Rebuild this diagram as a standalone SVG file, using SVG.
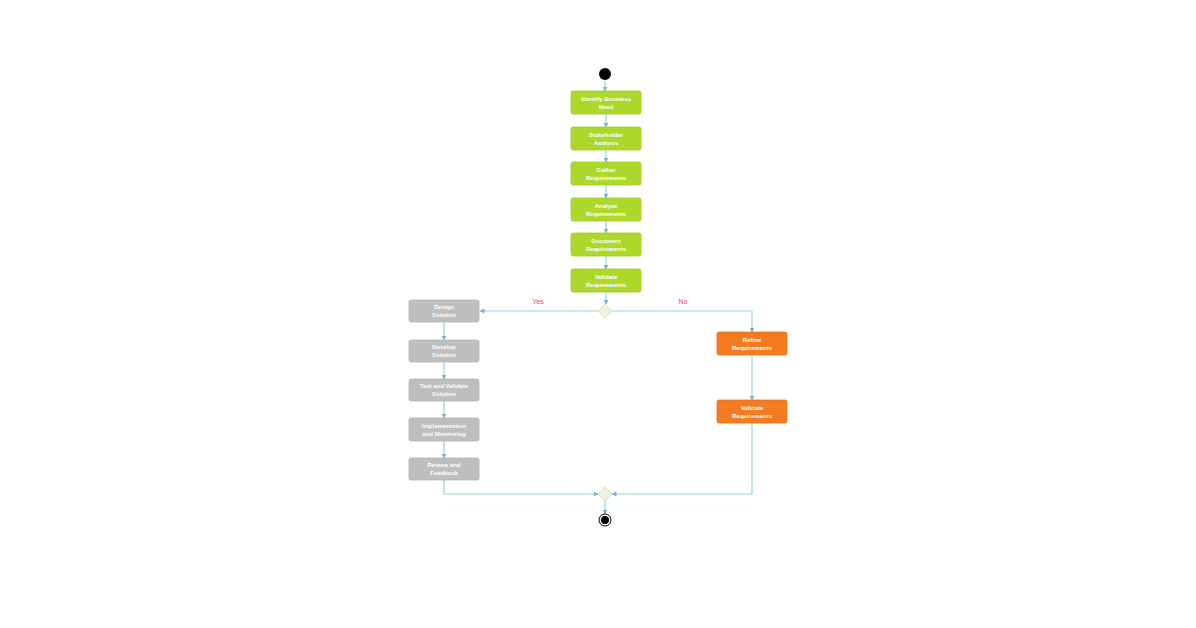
<svg xmlns="http://www.w3.org/2000/svg" width="1196" height="628" viewBox="0 0 1196 628">
<defs>
<marker id="ar" markerWidth="5" markerHeight="5" refX="4.5" refY="2.5" orient="auto" markerUnits="userSpaceOnUse">
<path d="M0,0 L5,2.5 L0,5 z" fill="#7aaecb"/>
</marker>
<style>
.c{fill:none;stroke:#97d5d2;stroke-width:1.2}
.g rect{fill:#acd82c;stroke:#a0ce24;stroke-width:0.8}
.o rect{fill:#f47b20;stroke:#e86e15;stroke-width:0.8}
.s rect{fill:#bebebe;stroke:#b2b2b2;stroke-width:0.8}
text{font-family:"Liberation Sans",Arial,sans-serif;font-size:6px;font-weight:bold;fill:#ffffff;text-anchor:middle}
.lbl{fill:#e8416a;font-size:7px;font-weight:normal}
</style>
</defs>
<rect width="1196" height="628" fill="#ffffff"/>
<g id="connectors">
<path class="c" marker-end="url(#ar)" d="M605,80 V91"/>
<path class="c" marker-end="url(#ar)" d="M606,114 V127"/>
<path class="c" marker-end="url(#ar)" d="M606,150 V162"/>
<path class="c" marker-end="url(#ar)" d="M606,185 V198"/>
<path class="c" marker-end="url(#ar)" d="M606,221 V233"/>
<path class="c" marker-end="url(#ar)" d="M606,256 V269"/>
<path class="c" marker-end="url(#ar)" d="M606,292 V304"/>
<path class="c" marker-end="url(#ar)" d="M598,311 H480"/>
<path class="c" marker-end="url(#ar)" d="M612,311 H752 V332"/>
<path class="c" marker-end="url(#ar)" d="M752,355 V400"/>
<path class="c" marker-end="url(#ar)" d="M752,423 V494 H612"/>
<path class="c" marker-end="url(#ar)" d="M444,322 V340"/>
<path class="c" marker-end="url(#ar)" d="M444,362 V379"/>
<path class="c" marker-end="url(#ar)" d="M444,401 V418"/>
<path class="c" marker-end="url(#ar)" d="M444,441 V458"/>
<path class="c" marker-end="url(#ar)" d="M444,480 V494 H598"/>
<path class="c" marker-end="url(#ar)" d="M605,501 V514"/>
<text class="lbl" x="538" y="304">Yes</text>
<text class="lbl" x="683" y="304">No</text>
</g>
<g id="start"><circle cx="605" cy="74" r="6" fill="#000000"/></g>
<g id="n1" class="g"><rect x="571" y="91" width="70" height="23" rx="2"/><text x="606" y="101">Identify Business</text><text x="606" y="109">Need</text></g>
<g id="n2" class="g"><rect x="571" y="127" width="70" height="23" rx="2"/><text x="606" y="137">Stakeholder</text><text x="606" y="145">Analysis</text></g>
<g id="n3" class="g"><rect x="571" y="162" width="70" height="23" rx="2"/><text x="606" y="172">Gather</text><text x="606" y="180">Requirements</text></g>
<g id="n4" class="g"><rect x="571" y="198" width="70" height="23" rx="2"/><text x="606" y="208">Analyze</text><text x="606" y="216">Requirements</text></g>
<g id="n5" class="g"><rect x="571" y="233" width="70" height="23" rx="2"/><text x="606" y="243">Document</text><text x="606" y="251">Requirements</text></g>
<g id="n6" class="g"><rect x="571" y="269" width="70" height="23" rx="2"/><text x="606" y="279">Validate</text><text x="606" y="287">Requirements</text></g>
<g id="decision"><path d="M605,304 L612,311 L605,318 L598,311 z" fill="#eef3dc" stroke="#d9e2bf" stroke-width="1"/></g>
<g id="s1" class="s"><rect x="409" y="300" width="70" height="22" rx="2"/><text x="444" y="309">Design</text><text x="444" y="317">Solution</text></g>
<g id="s2" class="s"><rect x="409" y="340" width="70" height="22" rx="2"/><text x="444" y="349">Develop</text><text x="444" y="357">Solution</text></g>
<g id="s3" class="s"><rect x="409" y="379" width="70" height="22" rx="2"/><text x="444" y="388">Test and Validate</text><text x="444" y="396">Solution</text></g>
<g id="s4" class="s"><rect x="409" y="418" width="70" height="23" rx="2"/><text x="444" y="428">Implementation</text><text x="444" y="436">and Monitoring</text></g>
<g id="s5" class="s"><rect x="409" y="458" width="70" height="22" rx="2"/><text x="444" y="467">Review and</text><text x="444" y="475">Feedback</text></g>
<g id="o1" class="o"><rect x="717" y="332" width="70" height="23" rx="2"/><text x="752" y="342">Refine</text><text x="752" y="350">Requirements</text></g>
<g id="o2" class="o"><rect x="717" y="400" width="70" height="23" rx="2"/><text x="752" y="410">Validate</text><text x="752" y="418">Requirements</text></g>
<g id="merge"><path d="M605,487 L612,494 L605,501 L598,494 z" fill="#eef3dc" stroke="#d9e2bf" stroke-width="1"/></g>
<g id="end"><circle cx="605" cy="520" r="6" fill="#ffffff" stroke="#000000" stroke-width="1"/><circle cx="605" cy="520" r="4" fill="#000000"/></g>
</svg>
